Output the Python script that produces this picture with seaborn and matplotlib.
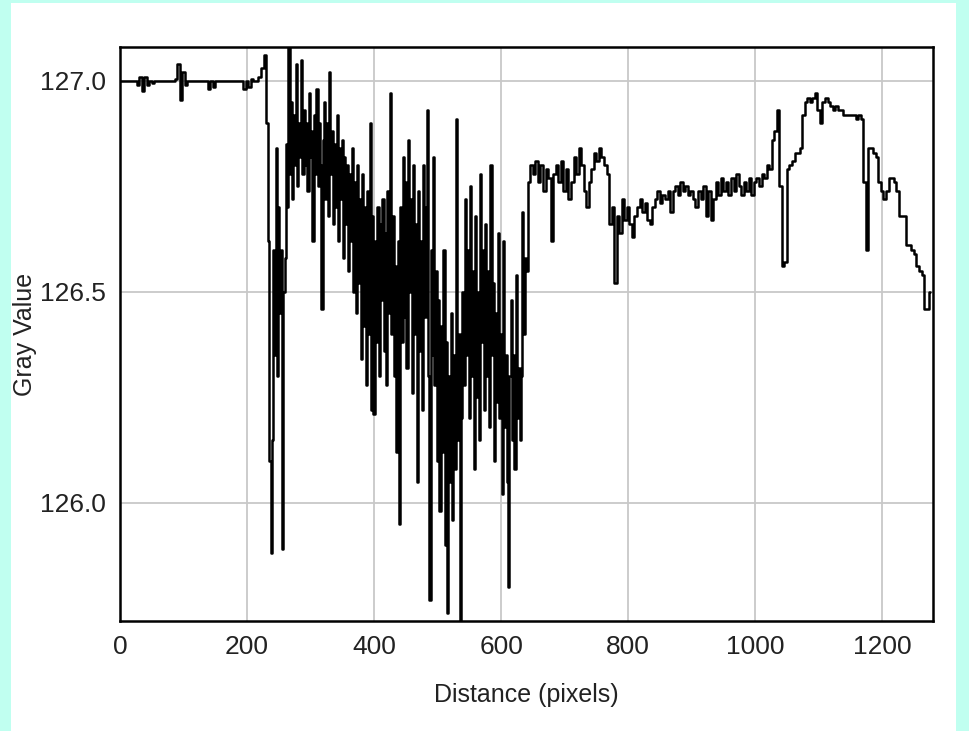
import numpy as np
import pandas as pd
import matplotlib
matplotlib.use("Agg")
import matplotlib.pyplot as plt
from matplotlib.patches import Rectangle
import seaborn as sns

# quiet start: every 4 px from 0
flat_vals = [
    127.0, 127.0, 127.0, 127.0, 127.0, 127.0, 127.0, 126.99, 127.01, 126.975,
    127.01, 126.99, 127.0, 126.995, 127.0, 127.0, 127.0, 127.0, 127.0, 127.0,
    127.0, 127.0, 127.005, 127.04, 126.955, 127.02, 126.99, 127.0, 127.0, 127.0,
    127.0, 127.0, 127.0, 127.0, 127.0, 126.98, 127.0, 126.985, 127.0, 127.0,
    127.0, 127.0, 127.0, 127.0, 127.0, 127.0, 127.0, 127.0, 127.0, 126.98,
    127.0, 126.985, 127.005, 127.0, 127.0, 127.01, 127.03, 127.06,
]

# noisy middle: every 2 px from 232
rough_vals = [
    126.90, 126.62, 126.10, 125.88, 126.15, 126.60, 126.35, 126.84, 126.30, 126.70,
    126.45, 126.60, 125.89, 126.50, 126.58, 126.85, 126.70, 127.09, 126.78, 126.95,
    126.72, 126.92, 126.80, 127.04, 126.75, 126.90, 126.82, 127.05, 126.78, 126.93,
    126.80, 126.90, 126.74, 126.97, 126.82, 126.88, 126.62, 126.92, 126.78, 126.98,
    126.75, 126.90, 126.80, 126.46, 126.86, 126.95, 126.72, 126.90, 126.68, 127.02,
    126.78, 126.88, 126.66, 126.85, 126.70, 126.92, 126.62, 126.84, 126.72, 126.86,
    126.58, 126.82, 126.66, 126.80, 126.55, 126.78, 126.62, 126.84, 126.50, 126.76,
    126.45, 126.80, 126.52, 126.72, 126.34, 126.78, 126.42, 126.70, 126.28, 126.74,
    126.40, 126.90, 126.22, 126.68, 126.21, 126.62, 126.38, 126.70, 126.30, 126.66,
    126.48, 126.72, 126.36, 126.64, 126.28, 126.74, 126.45, 126.97, 126.40, 126.68,
    126.30, 126.56, 126.12, 126.62, 125.95, 126.70, 126.38, 126.82, 126.44, 126.76,
    126.32, 126.86, 126.50, 126.72, 126.26, 126.80, 126.40, 126.66, 126.05, 126.74,
    126.36, 126.62, 126.22, 126.80, 126.44, 126.70, 126.93, 126.30, 125.77, 126.60,
    126.35, 126.82, 126.28, 126.55, 126.10, 126.48, 125.98, 126.42, 126.12, 126.60,
    125.90, 126.38, 125.74, 126.30, 126.05, 126.45, 125.96, 126.35, 126.08, 126.91,
    126.15, 126.40, 125.70, 126.20, 126.50, 126.28, 126.72, 126.35, 126.60, 126.20,
    126.75, 126.30, 126.55, 126.08, 126.68, 126.25, 126.50, 126.15, 126.78, 126.38,
    126.60, 126.22, 126.66, 126.30, 126.55, 126.18, 126.80, 126.35, 126.52, 126.10,
    126.45, 126.24, 126.64, 126.20, 126.40, 126.02, 126.62, 126.18, 126.35, 126.05,
    125.80, 126.30, 126.48, 126.15, 126.35, 126.08, 126.54, 126.20, 126.32, 126.15,
    126.30, 126.69, 126.40, 126.58, 126.55,
]

# plateau and right part: every 4 px from 644
tail_vals = [
    126.76, 126.80, 126.78, 126.81, 126.76, 126.80, 126.74, 126.79, 126.77, 126.62,
    126.78, 126.80, 126.76, 126.81, 126.74, 126.79, 126.72, 126.76, 126.82, 126.78,
    126.84, 126.80, 126.74, 126.70, 126.76, 126.79, 126.83, 126.81, 126.84, 126.82,
    126.80, 126.78, 126.66, 126.70, 126.52, 126.68, 126.64, 126.72, 126.67, 126.70,
    126.66, 126.63, 126.68, 126.70, 126.72, 126.69, 126.71, 126.67, 126.66, 126.70,
    126.72, 126.74, 126.71, 126.73, 126.72, 126.74, 126.69, 126.74, 126.75, 126.73,
    126.76, 126.74, 126.75, 126.73, 126.74, 126.72, 126.70, 126.74, 126.72, 126.75,
    126.68, 126.74, 126.67, 126.72, 126.76, 126.73, 126.77, 126.74, 126.76, 126.73,
    126.77, 126.74, 126.78, 126.75, 126.73, 126.76, 126.74, 126.77, 126.73, 126.76,
    126.77, 126.75, 126.78, 126.77, 126.80, 126.79, 126.86, 126.88, 126.93, 126.75,
    126.56, 126.57, 126.79, 126.80, 126.81, 126.83, 126.83, 126.84, 126.92, 126.95,
    126.96, 126.95, 126.96, 126.97, 126.93, 126.90, 126.95, 126.96, 126.95, 126.94,
    126.93, 126.94, 126.93, 126.93, 126.92, 126.92, 126.92, 126.92, 126.92, 126.91,
    126.92, 126.91, 126.76, 126.60, 126.84, 126.84, 126.83, 126.82, 126.76, 126.74,
    126.72, 126.74, 126.77, 126.77, 126.76, 126.74, 126.68, 126.68, 126.68, 126.61,
    126.61, 126.60, 126.59, 126.56, 126.55, 126.54, 126.46, 126.46, 126.50,
]

x_ticks = [0, 200, 400, 600, 800, 1000, 1200]
y_ticks = [126.0, 126.5, 127.0]

distance = np.concatenate([
    np.arange(len(flat_vals)) * 4,
    232 + np.arange(len(rough_vals)) * 2,
    644 + np.arange(len(tail_vals)) * 4,
])
gray = np.array(flat_vals + rough_vals + tail_vals)
df = pd.DataFrame({"distance": distance, "gray": gray})

sns.set_style("whitegrid")
plt.rcParams["font.family"] = ["Liberation Sans Narrow", "Liberation Sans", "DejaVu Sans"]

fig = plt.figure(figsize=(9.69, 7.31), dpi=100)
fig.patch.set_facecolor("#C0FFF0")
fig.patches.append(Rectangle((11 / 969, 0), 945 / 969, 728 / 731,
                             transform=fig.transFigure, facecolor="white",
                             edgecolor="none", zorder=-5))

ax = fig.add_axes([120 / 969, 1 - 621 / 731, 813 / 969, 574 / 731])
ax.set_zorder(2)
ax.set_facecolor("white")

sns.lineplot(data=df, x="distance", y="gray", ax=ax, color="black",
             linewidth=1.8, estimator=None, sort=False, drawstyle="steps-mid")

ax.set_xlim(0, 1280)
ax.set_ylim(125.72, 127.08)
ax.set_xticks(x_ticks)
ax.set_yticks(y_ticks)
ax.set_yticklabels([f"{v:.1f}" for v in y_ticks])
ax.grid(True, color="#C8C8C8", linewidth=1.3)
ax.tick_params(length=0, labelsize=19, labelcolor="#222222", pad=10)
for s in ax.spines.values():
    s.set_visible(True)
    s.set_color("black")
    s.set_linewidth(1.8)

ax.set_xlabel("Distance (pixels)", fontsize=18, color="#222222")
ax.set_ylabel("Gray Value", fontsize=18, color="#222222")
ax.xaxis.set_label_coords(0.5, -0.108)
ax.yaxis.set_label_coords(-0.102, 0.5)

fig.savefig("out.png", dpi=100, facecolor=fig.get_facecolor())
